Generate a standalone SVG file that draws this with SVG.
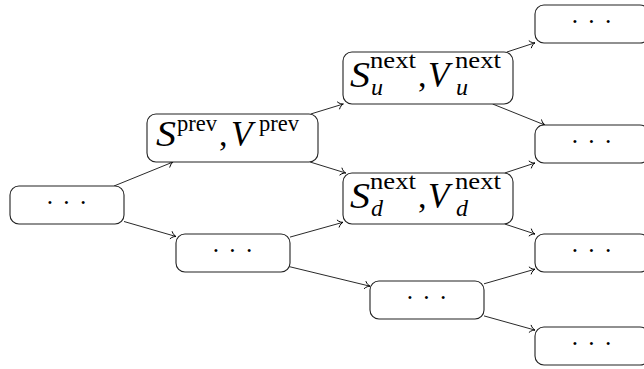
<svg xmlns="http://www.w3.org/2000/svg" width="644" height="369" viewBox="0 0 644 369">
  <defs>
    <marker id="to" markerUnits="userSpaceOnUse" orient="auto" refX="0" refY="0" overflow="visible">
      <path d="M-5,-3.6 C-3.6,-1.3 -1.2,-0.3 0,0 C-1.2,0.3 -3.6,1.3 -5,3.6" fill="none" stroke="#000" stroke-width="0.9" stroke-linecap="round"/>
    </marker>
  </defs>
  <style>
    .box { fill: #fff; stroke: #222; stroke-width: 1.1; }
    .edge { fill: none; stroke: #111; stroke-width: 0.9; marker-end: url(#to); }
    .dots { font-family: "Liberation Serif", serif; font-size: 25px; letter-spacing: 1px; text-anchor: middle; fill: #000; }
    .m { font-family: "Liberation Serif", serif; font-size: 35px; font-style: italic; fill: #000; }
    .r { font-family: "Liberation Serif", serif; font-size: 34px; fill: #000; }
    .sup { font-family: "Liberation Serif", serif; font-size: 23px; fill: #000; }
    .sub { font-family: "Liberation Serif", serif; font-size: 24px; font-style: italic; fill: #000; }
  </style>

  <!-- connectors -->
  <g id="edges">
    <line class="edge" x1="114" y1="186" x2="173" y2="162"/>
    <line class="edge" x1="124" y1="221.5" x2="176" y2="236.5"/>
    <line class="edge" x1="310.7" y1="114" x2="343.3" y2="104"/>
    <line class="edge" x1="310.1" y1="162" x2="345.7" y2="173"/>
    <line class="edge" x1="290" y1="237.1" x2="343" y2="222.3"/>
    <line class="edge" x1="290" y1="266.8" x2="370" y2="286.2"/>
    <line class="edge" x1="506.9" y1="52" x2="535" y2="42.8"/>
    <line class="edge" x1="492.6" y1="104" x2="544.8" y2="125"/>
    <line class="edge" x1="504.7" y1="173" x2="535" y2="163"/>
    <line class="edge" x1="504.7" y1="224" x2="535" y2="234"/>
    <line class="edge" x1="484" y1="283.8" x2="535" y2="269.2"/>
    <line class="edge" x1="484" y1="315.9" x2="535" y2="330.1"/>
  </g>

  <!-- root -->
  <g id="root">
    <rect class="box" x="10" y="186" width="114" height="38" rx="9"/>
    <text class="dots" x="67" y="211">· · ·</text>
  </g>

  <!-- previous state -->
  <g id="prev">
    <rect class="box" x="147" y="114" width="171" height="48" rx="9"/>
    <text class="m" x="156" y="146" textLength="20" lengthAdjust="spacingAndGlyphs">S</text>
    <text class="sup" x="177" y="131" textLength="40" lengthAdjust="spacingAndGlyphs">prev</text>
    <text class="r" x="219" y="146">,</text>
    <text class="m" x="231" y="146">V</text>
    <text class="sup" x="259" y="131" textLength="40" lengthAdjust="spacingAndGlyphs">prev</text>
  </g>

  <!-- lower branch -->
  <g id="lower">
    <rect class="box" x="176" y="234" width="114" height="38" rx="9"/>
    <text class="dots" x="233" y="259">· · ·</text>
  </g>

  <!-- up move -->
  <g id="next-up">
    <rect class="box" x="343" y="52" width="170" height="52" rx="9"/>
    <text class="m" x="350" y="87" textLength="20" lengthAdjust="spacingAndGlyphs">S</text>
    <text class="sup" x="370" y="68" textLength="46" lengthAdjust="spacingAndGlyphs">next</text>
    <text class="sub" x="371" y="95">u</text>
    <text class="r" x="418" y="87">,</text>
    <text class="m" x="428" y="87">V</text>
    <text class="sup" x="455" y="68" textLength="46" lengthAdjust="spacingAndGlyphs">next</text>
    <text class="sub" x="456" y="95">u</text>
  </g>

  <!-- down move -->
  <g id="next-down">
    <rect class="box" x="343" y="173" width="170" height="51" rx="9"/>
    <text class="m" x="350" y="208" textLength="20" lengthAdjust="spacingAndGlyphs">S</text>
    <text class="sup" x="370" y="189" textLength="46" lengthAdjust="spacingAndGlyphs">next</text>
    <text class="sub" x="371" y="216">d</text>
    <text class="r" x="418" y="208">,</text>
    <text class="m" x="428" y="208">V</text>
    <text class="sup" x="455" y="189" textLength="46" lengthAdjust="spacingAndGlyphs">next</text>
    <text class="sub" x="456" y="216">d</text>
  </g>

  <!-- lower branch, next step -->
  <g id="lower-next">
    <rect class="box" x="370" y="281" width="114" height="38" rx="9"/>
    <text class="dots" x="427" y="306">· · ·</text>
  </g>

  <!-- leaves -->
  <g id="leaf-1">
    <rect class="box" x="535" y="5" width="114" height="38" rx="9"/>
    <text class="dots" x="592" y="30">· · ·</text>
  </g>
  <g id="leaf-2">
    <rect class="box" x="535" y="125" width="114" height="38" rx="9"/>
    <text class="dots" x="592" y="150">· · ·</text>
  </g>
  <g id="leaf-3">
    <rect class="box" x="535" y="234" width="114" height="38" rx="9"/>
    <text class="dots" x="592" y="259">· · ·</text>
  </g>
  <g id="leaf-4">
    <rect class="box" x="535" y="327" width="114" height="38" rx="9"/>
    <text class="dots" x="592" y="352">· · ·</text>
  </g>
</svg>
